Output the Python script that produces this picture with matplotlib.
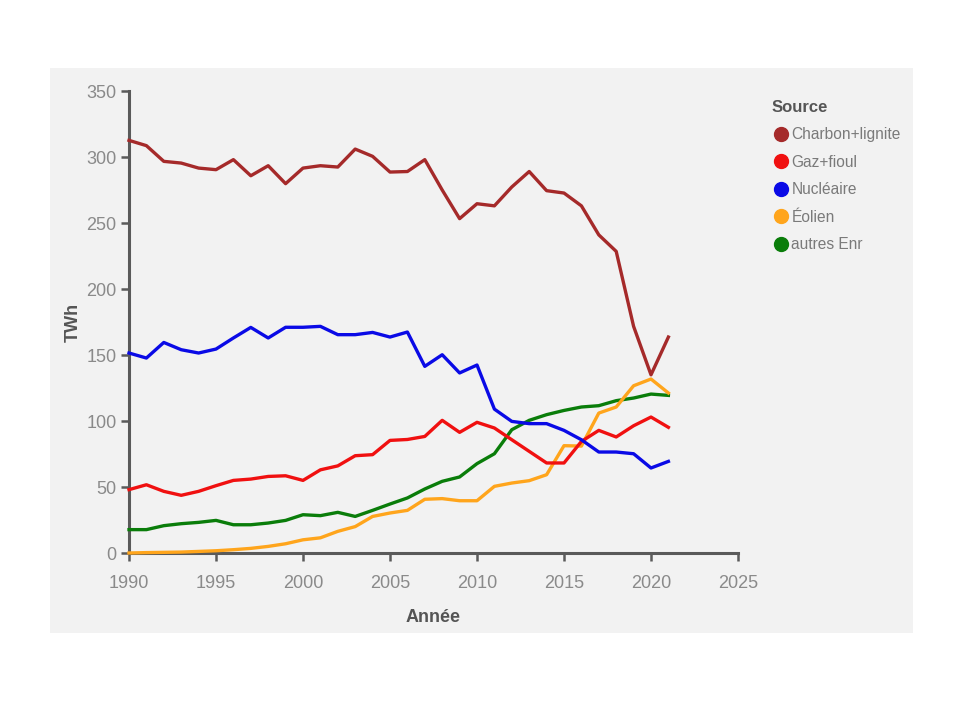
import matplotlib.pyplot as plt
from matplotlib.lines import Line2D
from matplotlib.patches import Rectangle

years = list(range(1990, 2022))

charbon = [312.6, 308.6, 296.7, 295.4, 291.6, 290.4, 298.0, 285.8, 293.4, 279.8,
           291.6, 293.4, 292.4, 306.0, 300.5, 288.6, 289.0, 298.0, 275.0, 253.3,
           264.6, 263.0, 277.3, 289.0, 274.5, 272.7, 263.0, 241.0, 228.5, 171.7,
           135.0, 163.6]
gaz = [48.0, 51.7, 46.7, 43.7, 46.7, 51.0, 55.0, 56.0, 58.0, 58.5,
       55.0, 63.0, 66.0, 73.7, 74.5, 85.3, 86.0, 88.3, 100.5, 91.4,
       99.0, 94.7, 85.8, 77.0, 68.2, 68.2, 84.5, 92.9, 87.9, 96.4,
       103.0, 95.2]
nucleaire = [151.5, 147.7, 159.5, 154.0, 151.5, 154.5, 162.9, 170.9, 162.9, 171.0,
             171.0, 171.7, 165.4, 165.4, 167.1, 163.6, 167.4, 141.4, 150.2, 136.4,
             142.4, 109.0, 99.7, 98.0, 98.0, 92.9, 85.8, 76.5, 76.5, 75.2,
             64.4, 69.4]
eolien = [0.0, 0.3, 0.5, 0.7, 1.2, 1.7, 2.5, 3.5, 5.0, 7.0,
          10.0, 11.5, 16.4, 20.0, 27.7, 30.3, 32.3, 40.7, 41.2, 39.6,
          39.6, 50.5, 53.0, 54.8, 59.3, 81.3, 81.0, 106.0, 110.6, 126.7,
          131.8, 121.2]
autres = [17.7, 17.7, 20.7, 22.2, 23.2, 24.7, 21.4, 21.4, 22.7, 24.7,
          29.0, 28.3, 30.8, 27.7, 32.3, 37.1, 41.7, 48.5, 54.3, 57.6,
          67.7, 75.2, 93.4, 100.5, 104.8, 108.0, 110.6, 111.6, 115.4, 117.4,
          120.4, 119.4]

sources = ["Charbon+lignite", "Gaz+fioul", "Nucléaire", "Éolien", "autres Enr"]
series = [charbon, gaz, nucleaire, eolien, autres]
colors = ["#a52a2a", "#f01010", "#0a0ae6", "#ffa51c", "#0a7d0a"]

plt.rcParams['font.family'] = ['Liberation Sans', 'DejaVu Sans']

fig = plt.figure(figsize=(9.6, 7.2), dpi=100)
fig.patch.set_facecolor("white")
# light grey panel behind everything
fig.patches.append(Rectangle((50 / 960, 87 / 720), 863 / 960, 565 / 720,
                             transform=fig.transFigure, facecolor="#f2f2f2",
                             edgecolor="none", zorder=-10))

ax = fig.add_axes([129 / 960, 1 - 553 / 720, 609 / 960, 462 / 720])
ax.set_facecolor("none")
ax.set_zorder(5)

# green/orange first so the others sit on top like the original
order = [4, 3, 1, 2, 0]
for i in order:
    ax.plot(years, series[i], color=colors[i], linewidth=2.4, clip_on=False,
            zorder=3)

ax.set_xlim(1990, 2025)
ax.set_ylim(0, 350)
ax.set_xticks(range(1990, 2026, 5))
ax.set_yticks(range(0, 351, 50))

for side in ["top", "right"]:
    ax.spines[side].set_visible(False)
for side in ["left", "bottom"]:
    ax.spines[side].set_color("#5a5a5a")
    ax.spines[side].set_linewidth(2.2)

ax.tick_params(axis="both", colors="#5a5a5a", width=1.8, length=6,
               labelsize=13, labelcolor="#8a8a8a")
ax.tick_params(axis="x", pad=10)
ax.tick_params(axis="y", pad=3)

ax.set_xlabel("Année", fontsize=13, fontweight="bold", color="#555555", labelpad=12)
ax.set_ylabel("TWh", fontsize=13, fontweight="bold", color="#555555", labelpad=3)

handles = [Line2D([], [], linestyle="none", marker="o", markersize=10,
                  markerfacecolor=c, markeredgecolor=c) for c in colors]
leg = fig.legend(handles, sources, loc="upper left",
                 bbox_to_anchor=(772 / 960, 1 - 100 / 720),
                 frameon=False, title="Source", alignment="left",
                 fontsize=11.2, title_fontproperties={"weight": "bold", "size": 12},
                 handletextpad=0.15, labelspacing=0.8, handlelength=1.1,
                 borderaxespad=0, borderpad=0)
for t in leg.get_texts():
    t.set_color("#7a7a7a")
leg.get_title().set_color("#555555")

fig.savefig("out.png", dpi=100, facecolor="white")
